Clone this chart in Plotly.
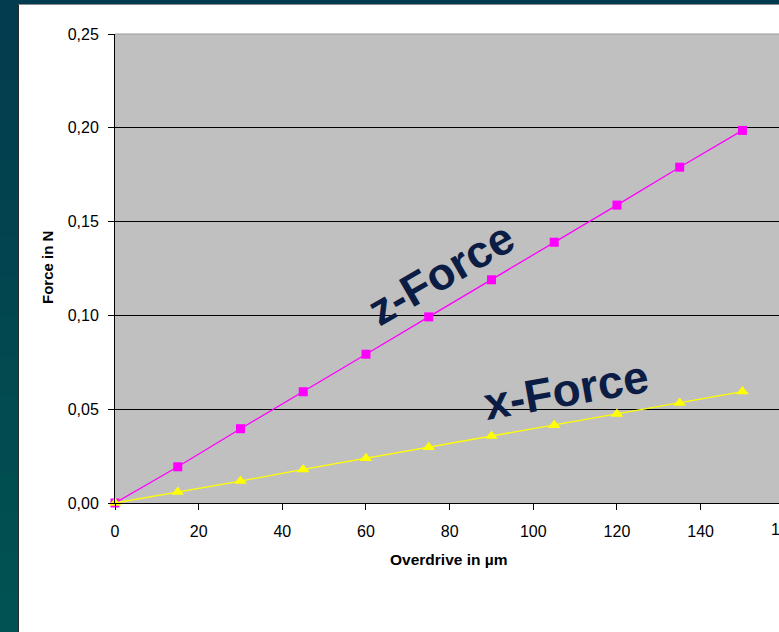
import plotly.graph_objects as go

# ---- data ----
overdrive = [0, 15, 30, 45, 60, 75, 90, 105, 120, 135, 150]
z_force = [0.0, 0.0193, 0.0396, 0.0593, 0.0793, 0.0992, 0.119, 0.139, 0.1588, 0.179, 0.1986]
x_force = [0.0, 0.0058, 0.0117, 0.0179, 0.0238, 0.0297, 0.0357, 0.0415, 0.0475, 0.0533, 0.0594]
y_ticks = [0.0, 0.05, 0.10, 0.15, 0.20, 0.25]
x_ticks = [0, 20, 40, 60, 80, 100, 120, 140]
x_tick_cut = 160

# ---- layout geometry ----
W, H = 779, 632
L, T, B, R = 115, 34, 129, 0
PW, PH = W - L - R, H - T - B
X_PX_PER_UNIT = 4.183
X_MAX = PW / X_PX_PER_UNIT


def px(x):
    return (x - L) / PW


def py(y):
    return (H - B - y) / PH


FONT = "Arial, Liberation Sans, sans-serif"
TEXT_COL = "#0B1D45"

fig = go.Figure()
fig.add_trace(go.Scatter(
    x=overdrive, y=z_force, mode="lines+markers", name="z-Force",
    line=dict(color="#FF00FF", width=1.3),
    marker=dict(symbol="square", size=9, color="#FF00FF"),
    cliponaxis=False,
))
fig.add_trace(go.Scatter(
    x=overdrive, y=x_force, mode="lines+markers", name="x-Force",
    line=dict(color="#FFFF00", width=1.3),
    marker=dict(symbol="triangle-up", size=11, color="#FFFF00"),
    cliponaxis=False,
))

shapes = []
# teal gradient strip on the left (bands overlap so no seams show)
top_c = (3, 60, 78)
bot_c = (1, 82, 82)
N = 16
for i in range(N):
    f = i / (N - 1)
    c = tuple(round(top_c[k] + (bot_c[k] - top_c[k]) * f) for k in range(3))
    y0 = H * i / N
    y1 = H + 2 if i == N - 1 else H * (i + 1) / N + 3
    shapes.append(dict(type="rect", xref="paper", yref="paper",
                       x0=px(-2), x1=px(18.2), y0=py(y1), y1=py(y0),
                       fillcolor="rgb(%d,%d,%d)" % c,
                       line=dict(width=0, color="rgb(%d,%d,%d)" % c), layer="below"))
# top strip
shapes.append(dict(type="rect", xref="paper", yref="paper",
                   x0=px(-2), x1=px(W + 2), y0=py(4), y1=py(-2),
                   fillcolor="rgb(3,60,78)", line=dict(width=0), layer="below"))
# panel borders
shapes.append(dict(type="line", xref="paper", yref="paper",
                   x0=px(18), x1=px(W + 2), y0=py(4.5), y1=py(4.5),
                   line=dict(color="#8a8a8a", width=1), layer="below"))
shapes.append(dict(type="line", xref="paper", yref="paper",
                   x0=px(18.5), x1=px(18.5), y0=py(H + 2), y1=py(4.5),
                   line=dict(color="#2a2a2a", width=1), layer="below"))
# plot area top border (grey)
shapes.append(dict(type="line", xref="paper", yref="paper",
                   x0=0, x1=1.01, y0=1, y1=1,
                   line=dict(color="#9a9a9a", width=1), layer="above"))

annotations = [
    dict(text="z-Force", xref="x", yref="y", x=78.0, y=0.1222,
         showarrow=False, textangle=-30, xanchor="center", yanchor="middle",
         font=dict(family=FONT, size=45, color=TEXT_COL, weight="bold")),
    dict(text="x-Force", xref="x", yref="y", x=107.7, y=0.0604,
         showarrow=False, textangle=-10, xanchor="center", yanchor="middle",
         font=dict(family=FONT, size=46, color=TEXT_COL, weight="bold")),
    dict(text="Overdrive in µm", xref="paper", yref="paper",
         x=px(448), y=py(559), showarrow=False, xanchor="center", yanchor="middle",
         font=dict(family=FONT, size=15.5, color="black", weight="bold")),
    dict(text="Force in N", xref="paper", yref="paper",
         x=px(47), y=py(268), showarrow=False, textangle=-90,
         xanchor="center", yanchor="middle",
         font=dict(family=FONT, size=15, color="black", weight="bold")),
    dict(text=str(x_tick_cut), xref="paper", yref="paper",
         x=x_tick_cut / X_MAX, y=py(529), showarrow=False,
         xanchor="center", yanchor="middle",
         font=dict(family=FONT, size=16, color="black")),
]

fig.update_layout(
    width=W, height=H,
    margin=dict(l=L, r=R, t=T, b=B, pad=0),
    paper_bgcolor="white", plot_bgcolor="#C0C0C0",
    showlegend=False,
    separators=",.",
    shapes=shapes,
    annotations=annotations,
    font=dict(family=FONT, size=16, color="black"),
)
fig.update_xaxes(
    range=[0, X_MAX], tickvals=x_ticks, ticks="outside", ticklen=6,
    tickcolor="black", showline=True, linecolor="black", linewidth=1,
    showgrid=False, zeroline=False, ticklabelstandoff=8,
    tickfont=dict(family=FONT, size=16, color="black"),
)
fig.update_yaxes(
    range=[0, 0.25], tickvals=y_ticks, tickformat=".2f", ticks="outside",
    ticklen=6, tickcolor="black", showline=True, linecolor="black", linewidth=1,
    showgrid=True, gridcolor="black", gridwidth=1, zeroline=False,
    ticklabelstandoff=6,
    tickfont=dict(family=FONT, size=16, color="black"),
)

fig.write_html("out.html")
